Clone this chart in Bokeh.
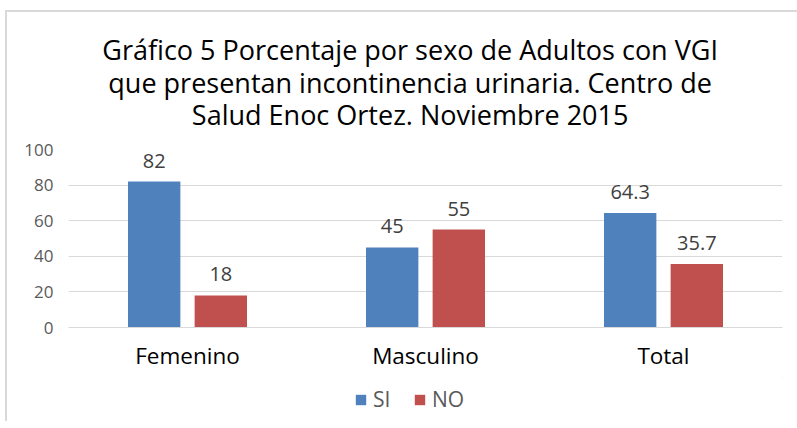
from bokeh.plotting import figure
from bokeh.layouts import column
from bokeh.models import FactorRange, ColumnDataSource, Legend, LegendItem, SingleIntervalTicker
from bokeh.transform import dodge
from bokeh.core.properties import value
from bokeh.embed import file_html
from bokeh.resources import INLINE

categories = ["Femenino", "Masculino", "Total"]
si_values = [82, 45, 64.3]
no_values = [18, 55, 35.7]
si_labels = ["82", "45", "64.3"]
no_labels = ["18", "55", "35.7"]
series_names = ["SI", "NO"]
title_lines = [
    "Gráfico 5 Porcentaje por sexo de Adultos con VGI",
    "que presentan incontinencia urinaria. Centro de",
    "Salud Enoc Ortez. Noviembre 2015",
]

FONT = "Open Sans"
BLUE = "#4F81BD"
RED = "#C0504D"
W = 790
TITLE_H = 125


def bare(fig):
    fig.grid.visible = False
    fig.outline_line_color = None
    return fig


# ---- title panel ----
t = bare(figure(width=W, height=TITLE_H, x_range=(0, W), y_range=(0, TITLE_H),
                x_axis_location=None, y_axis_location=None,
                output_backend="svg", toolbar_location=None,
                min_border_left=0, min_border_right=0,
                min_border_top=0, min_border_bottom=0))
line_step = 32.5
tsrc = ColumnDataSource(dict(
    txt=title_lines,
    x=[378 for _ in title_lines],
    y=[TITLE_H - 37 - i * line_step for i in range(len(title_lines))],
))
t.text(x="x", y="y", text="txt", source=tsrc, text_align="center",
       text_baseline="middle", text_font=value(FONT), text_font_size="27px",
       text_color="#000000")

# ---- chart ----
src = ColumnDataSource(dict(cat=categories, si=si_values, no=no_values,
                            si_lbl=si_labels, no_lbl=no_labels))

x_range = FactorRange(*categories, range_padding=0)
p = figure(width=W, height=240, x_range=x_range, y_range=(0, 100),
           output_backend="svg", toolbar_location=None,
           min_border_left=61, min_border_right=15, min_border_top=12,
           min_border_bottom=50)

p.vbar(x=dodge("cat", -0.14, range=x_range), top="si", width=0.22,
       source=src, color=BLUE, line_color=None)
p.vbar(x=dodge("cat", 0.14, range=x_range), top="no", width=0.22,
       source=src, color=RED, line_color=None)

p.text(x=dodge("cat", -0.14, range=x_range), y="si", text="si_lbl", source=src,
       y_offset=-14, text_align="center", text_baseline="bottom",
       text_font=value(FONT), text_font_size="20px", text_color="#404040")
p.text(x=dodge("cat", 0.14, range=x_range), y="no", text="no_lbl", source=src,
       y_offset=-14, text_align="center", text_baseline="bottom",
       text_font=value(FONT), text_font_size="20px", text_color="#404040")

p.yaxis.ticker = SingleIntervalTicker(interval=20)
p.yaxis.axis_line_color = None
p.yaxis.major_tick_line_color = None
p.yaxis.minor_tick_line_color = None
p.yaxis.major_label_text_font = FONT
p.yaxis.major_label_text_font_size = "17px"
p.yaxis.major_label_text_color = "#595959"
p.yaxis.major_label_standoff = 9

p.xaxis.axis_line_color = "#d9d9d9"
p.xaxis.major_tick_line_color = None
p.xaxis.minor_tick_line_color = None
p.xaxis.major_label_text_font = FONT
p.xaxis.major_label_text_font_size = "22.5px"
p.xaxis.major_label_text_color = "#000000"
p.xaxis.major_label_standoff = 6

p.xgrid.grid_line_color = None
p.ygrid.grid_line_color = "#d9d9d9"
p.outline_line_color = None

# ---- legend panel ----
lf = bare(figure(width=W, height=44, x_range=(0, 1), y_range=(0, 1),
                 x_axis_location=None, y_axis_location=None,
                 output_backend="svg", toolbar_location=None,
                 min_border_left=0, min_border_right=0,
                 min_border_top=0, min_border_bottom=0))
# hidden swatch renderers (outside the visible range) used only for the legend
lr1 = lf.vbar(x=[5], top=[5], bottom=[4], width=0.1, color=BLUE, line_color=None)
lr2 = lf.vbar(x=[5], top=[5], bottom=[4], width=0.1, color=RED, line_color=None)
legend = Legend(items=[LegendItem(label=series_names[0], renderers=[lr1]),
                       LegendItem(label=series_names[1], renderers=[lr2])],
                orientation="horizontal", location=(286, 8),
                label_text_font=FONT, label_text_font_size="21px",
                label_text_color="#595959", glyph_width=13, glyph_height=13,
                spacing=20, label_standoff=6, background_fill_alpha=0,
                border_line_color=None, margin=0, padding=4)
lf.add_layout(legend)

layout = column(t, p, lf, spacing=0)
layout.styles = {"margin-left": "5px", "margin-top": "10px",
                 "border-top": "2px solid #d9d9d9", "border-left": "2px solid #d9d9d9"}

open("out.html", "w").write(file_html(layout, INLINE))
